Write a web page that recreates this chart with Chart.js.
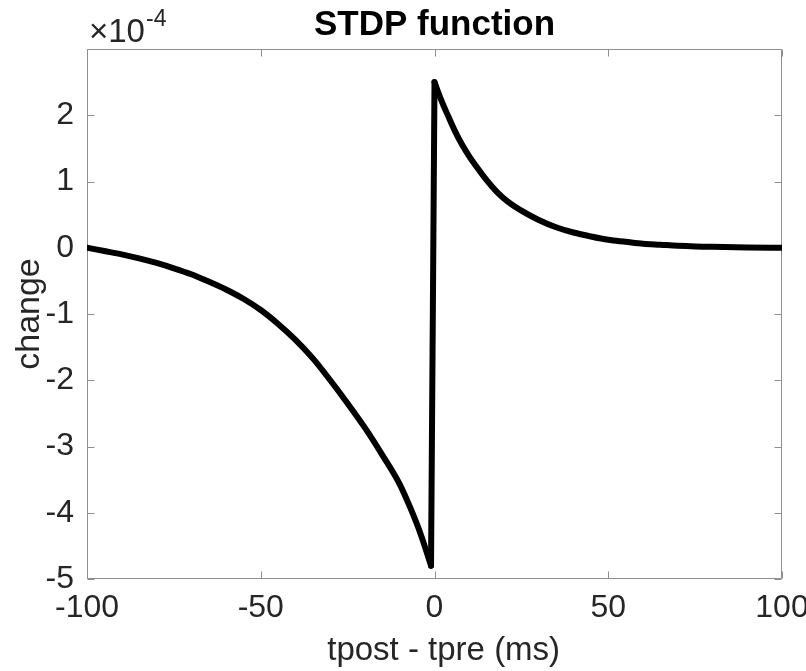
<!DOCTYPE html>
<html>
<head>
<meta charset="utf-8">
<script src="https://cdn.jsdelivr.net/npm/chart.js@4.4.1/dist/chart.umd.min.js"></script>
<style>
  html, body { margin: 0; padding: 0; background: #fff; }
</style>
</head>
<body>
<canvas id="myChart" width="806" height="671"></canvas>
<script>
// tpost - tpre (ms) and weight change (in units of 1e-4)
const tNeg  = [-100, -95, -90, -85, -80, -75, -70, -65, -60, -55, -50, -45, -40, -35, -30, -25, -20, -15, -10, -7, -4, -1];
const dwNeg = [0.00, -0.05, -0.10, -0.16, -0.23, -0.31, -0.40, -0.51, -0.63, -0.77, -0.94, -1.15, -1.39, -1.67, -2.00, -2.35, -2.72, -3.13, -3.57, -3.92, -4.32, -4.80];
const tPos  = [0, 2, 4, 6, 8, 10, 12, 15, 18, 21, 25, 30, 35, 40, 45, 50, 55, 60, 65, 70, 75, 80, 90, 100];
const dwPos = [2.50, 2.22, 1.98, 1.75, 1.55, 1.38, 1.23, 1.02, 0.84, 0.70, 0.56, 0.42, 0.31, 0.23, 0.17, 0.12, 0.09, 0.06, 0.045, 0.03, 0.02, 0.015, 0.005, 0.0];
const xTicks = [-100, -50, 0, 50, 100];
const yTicks = [-5, -4, -3, -2, -1, 0, 1, 2];

const FONT = "'Liberation Sans', Arial, Helvetica, sans-serif";
const axisGray = '#8f8f8f';
const textCol = '#262626';

const negPts = tNeg.map((t, i) => ({x: t, y: dwNeg[i]}));
const posPts = tPos.map((t, i) => ({x: t, y: dwPos[i]}));
// the jump between last negative sample and first positive one
const jumpPts = [negPts[negPts.length - 1], posPts[0]];

function curve(pts, smooth) {
  return {
    data: pts,
    borderColor: '#000',
    borderWidth: 6,
    pointRadius: 0,
    borderCapStyle: 'round',
    borderJoinStyle: 'round',
    cubicInterpolationMode: smooth ? 'monotone' : 'default',
    tension: 0,
    fill: false
  };
}

// matlab-ish box with inward ticks + the x10^-4 multiplier
const boxPlugin = {
  id: 'matlabBox',
  beforeDatasetsDraw(chart) {
    const {ctx, chartArea: a, scales: {x, y}} = chart;
    const L = Math.round(a.left) + 0.5, R = Math.round(a.right) - 0.5;
    const T = Math.round(a.top) + 0.5, B = Math.round(a.bottom) - 0.5;
    ctx.save();
    ctx.strokeStyle = axisGray;
    ctx.lineWidth = 1;
    ctx.beginPath();
    ctx.rect(L, T, R - L, B - T);
    xTicks.forEach(v => {
      const px = Math.round(x.getPixelForValue(v)) + 0.5;
      ctx.moveTo(px, B); ctx.lineTo(px, B - 7);
      ctx.moveTo(px, T); ctx.lineTo(px, T + 7);
    });
    yTicks.forEach(v => {
      const py = Math.round(y.getPixelForValue(v)) + 0.5;
      ctx.moveTo(L, py); ctx.lineTo(L + 7, py);
      ctx.moveTo(R, py); ctx.lineTo(R - 7, py);
    });
    ctx.stroke();
    ctx.restore();
  },
  afterDraw(chart) {
    const ctx = chart.ctx;
    ctx.save();
    ctx.fillStyle = textCol;
    ctx.textBaseline = 'alphabetic';
    ctx.font = '33px ' + FONT;
    ctx.fillText('\u00d710', 89, 42);
    const w = ctx.measureText('\u00d710').width;
    ctx.font = '23px ' + FONT;
    ctx.fillText('-4', 89 + w + 1, 26);
    ctx.restore();
  }
};

new Chart(document.getElementById('myChart'), {
  type: 'line',
  data: {
    datasets: [curve(negPts, true), curve(jumpPts, false), curve(posPts, true)]
  },
  options: {
    responsive: false,
    animation: false,
    devicePixelRatio: 1,
    layout: { padding: { left: 0, right: 24, top: 0, bottom: 0 } },
    plugins: {
      legend: { display: false },
      tooltip: { enabled: false },
      title: {
        display: true,
        text: 'STDP function',
        fullSize: false,
        color: '#000',
        font: { family: FONT, size: 35, weight: 'bold' },
        padding: { top: 4, bottom: 3 }
      }
    },
    scales: {
      x: {
        type: 'linear',
        min: -100,
        max: 100,
        grid: { display: false, drawTicks: false },
        border: { display: false },
        afterBuildTicks: s => { s.ticks = xTicks.map(v => ({value: v})); },
        afterFit: s => { s.height = 92; s.paddingLeft = 0; s.paddingRight = 0; },
        ticks: {
          color: textCol,
          font: { family: FONT, size: 32 },
          padding: 10,
          maxRotation: 0,
          autoSkip: false
        },
        title: {
          display: true,
          text: '\u00a0\u00a0tpost - tpre (ms)',
          color: textCol,
          font: { family: FONT, size: 33 },
          padding: { top: 9, bottom: 0 }
        }
      },
      y: {
        type: 'linear',
        min: -5,
        max: 3,
        grid: { display: false, drawTicks: false },
        border: { display: false },
        afterBuildTicks: s => { s.ticks = yTicks.map(v => ({value: v})); },
        afterFit: s => { s.width = 87; s.paddingTop = 0; s.paddingBottom = 0; },
        ticks: {
          color: textCol,
          font: { family: FONT, size: 32 },
          padding: 13
        },
        title: {
          display: true,
          text: 'change',
          color: textCol,
          font: { family: FONT, size: 34 },
          padding: { top: 9, bottom: 0 }
        }
      }
    }
  },
  plugins: [boxPlugin]
});
</script>
</body>
</html>
